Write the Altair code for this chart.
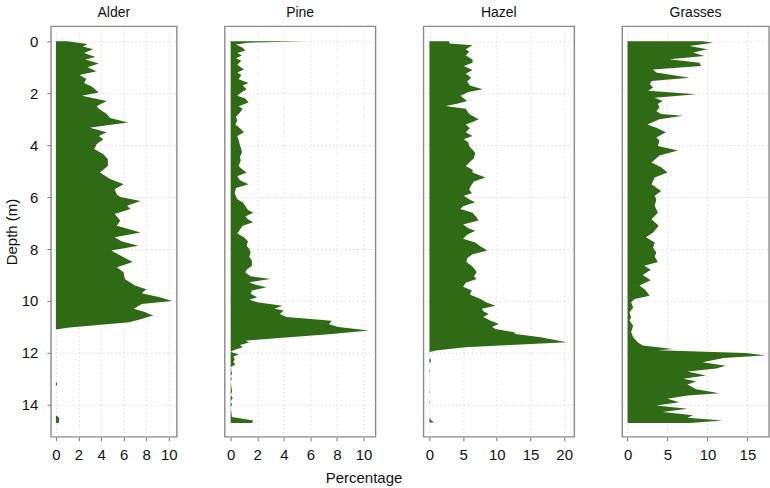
import altair as alt
import pandas as pd

# ---------------- data ----------------
alder_depth = [0, 0.1, 0.2, 0.3, 0.45, 0.6, 0.7, 0.85, 1.0, 1.15, 1.3, 1.45, 1.6, 1.75, 1.97,
               2.1, 2.3, 2.5, 2.6, 2.8, 2.95, 3.13, 3.25, 3.33, 3.4, 3.5, 3.65, 3.77, 3.96, 4.15,
               4.35, 4.54, 4.8, 5.05, 5.3, 5.5, 5.7, 5.9, 6.0, 6.15, 6.33, 6.46, 6.65, 6.9, 7.1,
               7.36, 7.55, 7.7, 7.87, 8.06, 8.25, 8.5, 8.7, 8.9, 9.15, 9.4, 9.55, 9.7, 9.86, 10.0,
               10.12, 10.3, 10.42, 10.56, 10.7, 10.82, 10.95, 11.02, 11.1, 13.1, 13.2, 13.3,
               14.4, 14.5, 14.7]
alder_pct = [1.0, 2.8, 2.4, 3.3, 2.5, 3.5, 2.6, 3.8, 2.8, 3.6, 2.1, 2.7, 2.5, 3.2, 3.8,
             2.3, 4.5, 3.6, 3.8, 4.5, 4.8, 6.4, 4.2, 3.0, 3.6, 4.5, 3.8, 4.2, 3.6, 3.4,
             4.2, 4.6, 4.6, 3.9, 4.8, 6.0, 5.2, 5.4, 5.7, 7.5, 6.3, 6.6, 5.2, 5.7, 5.4,
             7.5, 5.2, 5.8, 7.3, 4.9, 5.7, 6.8, 5.4, 6.0, 6.1, 7.0, 8.0, 7.6, 9.2, 10.3,
             7.6, 6.9, 7.8, 8.6, 7.5, 6.5, 3.0, 1.2, 0.0, 0.0, 0.12, 0.0,
             0.0, 0.3, 0.25]

pine_depth = [0, 0.05, 0.12, 0.25, 0.35, 0.45, 0.55, 0.65, 0.75, 0.9, 1.08, 1.2, 1.3, 1.46,
              1.6, 1.7, 1.85, 1.97, 2.1, 2.2, 2.36, 2.5, 2.6, 2.74, 2.9, 3.05, 3.2, 3.35, 3.5,
              3.65, 3.8, 4.0, 4.15, 4.28, 4.45, 4.6, 4.8, 4.95, 5.05, 5.2, 5.35, 5.5, 5.65,
              5.85, 6.08, 6.2, 6.33, 6.5, 6.6, 6.75, 6.85, 6.97, 7.1, 7.25, 7.4, 7.55, 7.7,
              7.87, 8.0, 8.13, 8.3, 8.45, 8.64, 8.8, 8.9, 9.05, 9.15, 9.28, 9.35, 9.47, 9.6,
              9.72, 9.86, 9.95, 10.05, 10.18, 10.3, 10.37, 10.5, 10.62, 10.76, 10.9, 11.0,
              11.14, 11.27, 11.4, 11.53, 11.6, 11.7, 11.78, 11.9, 11.97, 12.05, 12.15, 12.25,
              12.35, 12.45, 12.55, 12.8, 12.9, 13.0, 13.1, 13.5, 13.6, 13.75, 13.85, 14.0,
              14.1, 14.47, 14.6, 14.7]
pine_pct = [5.6, 1.3, 0.4, 0.9, 1.1, 0.5, 0.85, 0.4, 0.8, 0.5, 1.0, 0.5, 0.8, 0.6,
            1.35, 0.9, 1.2, 0.8, 0.5, 1.1, 1.35, 0.6, 0.9, 0.7, 0.4, 0.5, 0.35, 0.7, 1.0,
            0.5, 0.6, 0.7, 0.8, 0.85, 0.7, 0.75, 0.6, 0.9, 1.2, 0.5, 0.7, 1.35, 0.4,
            0.3, 0.5, 0.9, 1.1, 1.3, 1.7, 1.1, 1.3, 1.7, 0.9, 0.7, 0.5, 1.0, 1.3,
            1.2, 1.4, 1.5, 1.4, 1.6, 1.6, 1.2, 1.1, 1.5, 3.0, 1.4, 1.7, 2.7, 1.6,
            1.5, 2.0, 1.4, 2.0, 3.9, 3.3, 4.0, 3.7, 4.2, 7.6, 7.4, 8.1,
            10.4, 7.6, 4.4, 1.1, 1.4, 0.7, 0.9, 0.2, 0.0, 0.6, 0.2, 0.3,
            0.2, 0.35, 0.0, 0.1, 0.0, 0.08, 0.0, 0.1, 0.0, 0.15, 0.0, 0.1,
            0.0, 0.1, 1.7, 1.6]

hazel_depth = [0, 0.08, 0.15, 0.3, 0.4, 0.55, 0.7, 0.82, 0.95, 1.1, 1.25, 1.4, 1.55, 1.7,
               1.85, 1.95, 2.1, 2.3, 2.4, 2.49, 2.6, 2.8, 3.0, 3.1, 3.2, 3.35, 3.5, 3.65, 3.77,
               3.9, 4.03, 4.2, 4.3, 4.5, 4.65, 4.8, 4.95, 5.05, 5.24, 5.4, 5.55, 5.7, 5.85,
               5.95, 6.1, 6.2, 6.35, 6.46, 6.6, 6.75, 6.9, 7.05, 7.2, 7.3, 7.45, 7.6, 7.75,
               7.9, 8.06, 8.2, 8.35, 8.5, 8.65, 8.8, 8.9, 9.05, 9.15, 9.3, 9.45, 9.6, 9.75,
               9.92, 10.05, 10.18, 10.3, 10.4, 10.5, 10.62, 10.75, 10.88, 11.0, 11.08, 11.2,
               11.27, 11.4, 11.46, 11.59, 11.7, 11.78, 11.9, 11.97, 12.2, 12.25, 12.35, 12.4,
               12.65, 12.7, 12.75, 13.45, 13.5, 13.55, 13.85, 13.9, 13.95, 14.5, 14.6, 14.68]
hazel_pct = [2.9, 3.0, 6.4, 5.4, 5.9, 5.4, 6.4, 6.4, 5.1, 6.4, 5.4, 6.2, 5.6, 6.0,
             7.9, 5.8, 4.6, 5.6, 4.1, 2.4, 5.4, 5.9, 7.3, 6.5, 5.4, 6.0, 5.4, 6.4, 5.1,
             5.8, 5.9, 6.5, 6.8, 6.6, 6.0, 5.4, 6.4, 6.4, 8.3, 6.6, 6.2, 5.9, 6.3,
             5.1, 6.0, 6.8, 5.0, 4.6, 6.4, 6.9, 7.3, 5.0, 5.8, 6.8, 5.6, 5.0, 6.8,
             7.6, 8.6, 6.4, 5.6, 5.5, 6.3, 6.8, 7.0, 6.6, 7.0, 5.4, 5.0, 6.3, 6.0,
             7.6, 8.4, 9.8, 7.8, 8.0, 8.8, 8.0, 9.0, 10.3, 9.3, 9.8, 12.5,
             12.8, 16.5, 17.7, 20.4, 12.0, 5.4, 1.2, 0.0, 0.0, 0.2, 0.2, 0.0,
             0.0, 0.15, 0.0, 0.0, 0.08, 0.0, 0.0, 0.1, 0.0, 0.0, 0.3, 0.7]

grass_depth = [0, 0.05, 0.18, 0.3, 0.43, 0.56, 0.69, 0.82, 0.95, 1.08, 1.2, 1.4, 1.53, 1.65,
               1.78, 1.9, 2.04, 2.17, 2.3, 2.4, 2.55, 2.68, 2.8, 2.87, 3.0, 3.2, 3.33, 3.5,
               3.7, 3.82, 4.03, 4.2, 4.4, 4.67, 4.85, 5.05, 5.24, 5.5, 5.76, 5.95, 6.1, 6.33,
               6.6, 6.85, 7.1, 7.36, 7.55, 7.75, 7.95, 8.13, 8.3, 8.5, 8.64, 8.8, 9.0, 9.2,
               9.4, 9.6, 9.8, 9.92, 10.05, 10.25, 10.44, 10.63, 10.75, 10.95, 11.2, 11.4,
               11.6, 11.72, 11.85, 11.9, 12.0, 12.1, 12.2, 12.36, 12.5, 12.6, 12.72, 12.87,
               13.0, 13.1, 13.22, 13.4, 13.55, 13.64, 13.77, 13.9, 14.03, 14.15, 14.28, 14.4,
               14.5, 14.6, 14.7]
grass_pct = [9.4, 10.7, 7.75, 10.0, 8.2, 9.6, 5.25, 9.0, 9.2, 3.2, 3.6, 7.75, 3.0, 2.8,
             3.2, 2.6, 8.6, 3.4, 4.4, 3.8, 4.0, 3.6, 4.2, 6.9, 4.0, 2.5, 3.6, 4.8,
             3.6, 4.0, 3.8, 6.3, 4.0, 3.0, 4.2, 5.0, 3.4, 3.0, 4.2, 3.4, 3.6, 3.4,
             3.8, 3.0, 3.9, 3.2, 2.3, 3.4, 3.2, 3.6, 3.4, 3.8, 2.1, 2.9, 1.9, 2.9,
             1.5, 2.3, 2.75, 0.9, 0.45, 0.7, 0.25, 0.45, 0.25, 0.7, 0.45, 0.7,
             1.3, 1.9, 5.7, 3.8, 14.8, 17.3, 12.0, 9.4, 12.3, 11.1, 7.5, 9.8,
             7.0, 8.6, 7.5, 8.6, 11.5, 7.5, 5.0, 6.5, 3.6, 7.5, 4.4, 8.2,
             7.5, 11.9, 7.75]

depth_ticks = [0, 2, 4, 6, 8, 10, 12, 14]
FILL = "#2f6b15"
FONT = "Liberation Sans"


def panel(name, depth, pct, xdomain, xticks, width, first=False, xtitle=None):
    df = pd.DataFrame({"depth": depth, "pct": pct})
    yaxis = alt.Axis(values=depth_ticks, grid=True, labels=first, ticks=first,
                     title="Depth (m)" if first else None, domain=False,
                     labelPadding=9, titlePadding=2)
    if xtitle:
        xaxis = alt.Axis(values=xticks, grid=True, title=xtitle, domain=False,
                         labelPadding=7,
                         titleX=139, titleY=41, titleBaseline="middle",
                         titleAlign="center", titleAnchor=None)
    else:
        xaxis = alt.Axis(values=xticks, grid=True, title=None, domain=False,
                         labelPadding=7)
    return alt.Chart(df).mark_area(orient="horizontal", color=FILL, clip=True,
                                   interpolate="linear").encode(
        y=alt.Y("depth:Q", scale=alt.Scale(domain=[-0.58, 15.23], reverse=True,
                                           nice=False, zero=False), axis=yaxis),
        x=alt.X("pct:Q", scale=alt.Scale(domain=xdomain, nice=False, zero=False),
                axis=xaxis, stack=None),
    ).properties(
        width=width, height=411,
        title=alt.TitleParams(name, fontSize=14, fontWeight="normal", font=FONT,
                              offset=6, color="#111"),
    )


p1 = panel("Alder", alder_depth, alder_pct, [-0.44, 10.7], [0, 2, 4, 6, 8, 10], 126, first=True)
p2 = panel("Pine", pine_depth, pine_pct, [-0.45, 10.9], [0, 2, 4, 6, 8, 10], 151, xtitle="Percentage")
p3 = panel("Hazel", hazel_depth, hazel_pct, [-0.89, 21.5], [0, 5, 10, 15, 20], 151)
p4 = panel("Grasses", grass_depth, grass_pct, [-0.67, 17.7], [0, 5, 10, 15], 147)

chart = alt.hconcat(p1, p2, p3, p4, spacing=48, bounds="flush").properties(
    padding={"left": 3, "top": 5, "right": 0, "bottom": 0},
    background="white",
).configure_view(
    stroke="#8a8a8a", strokeWidth=1.4
).configure_axis(
    labelFont=FONT, titleFont=FONT, labelFontSize=15, titleFontSize=15,
    titleFontWeight="normal", labelColor="#111", titleColor="#111",
    tickColor="#777", tickSize=4, labelPadding=5,
    gridColor="#d4d4d4", gridDash=[1, 3], gridWidth=1,
)

chart.save("out.html", embed_options={"renderer": "svg", "actions": False})
